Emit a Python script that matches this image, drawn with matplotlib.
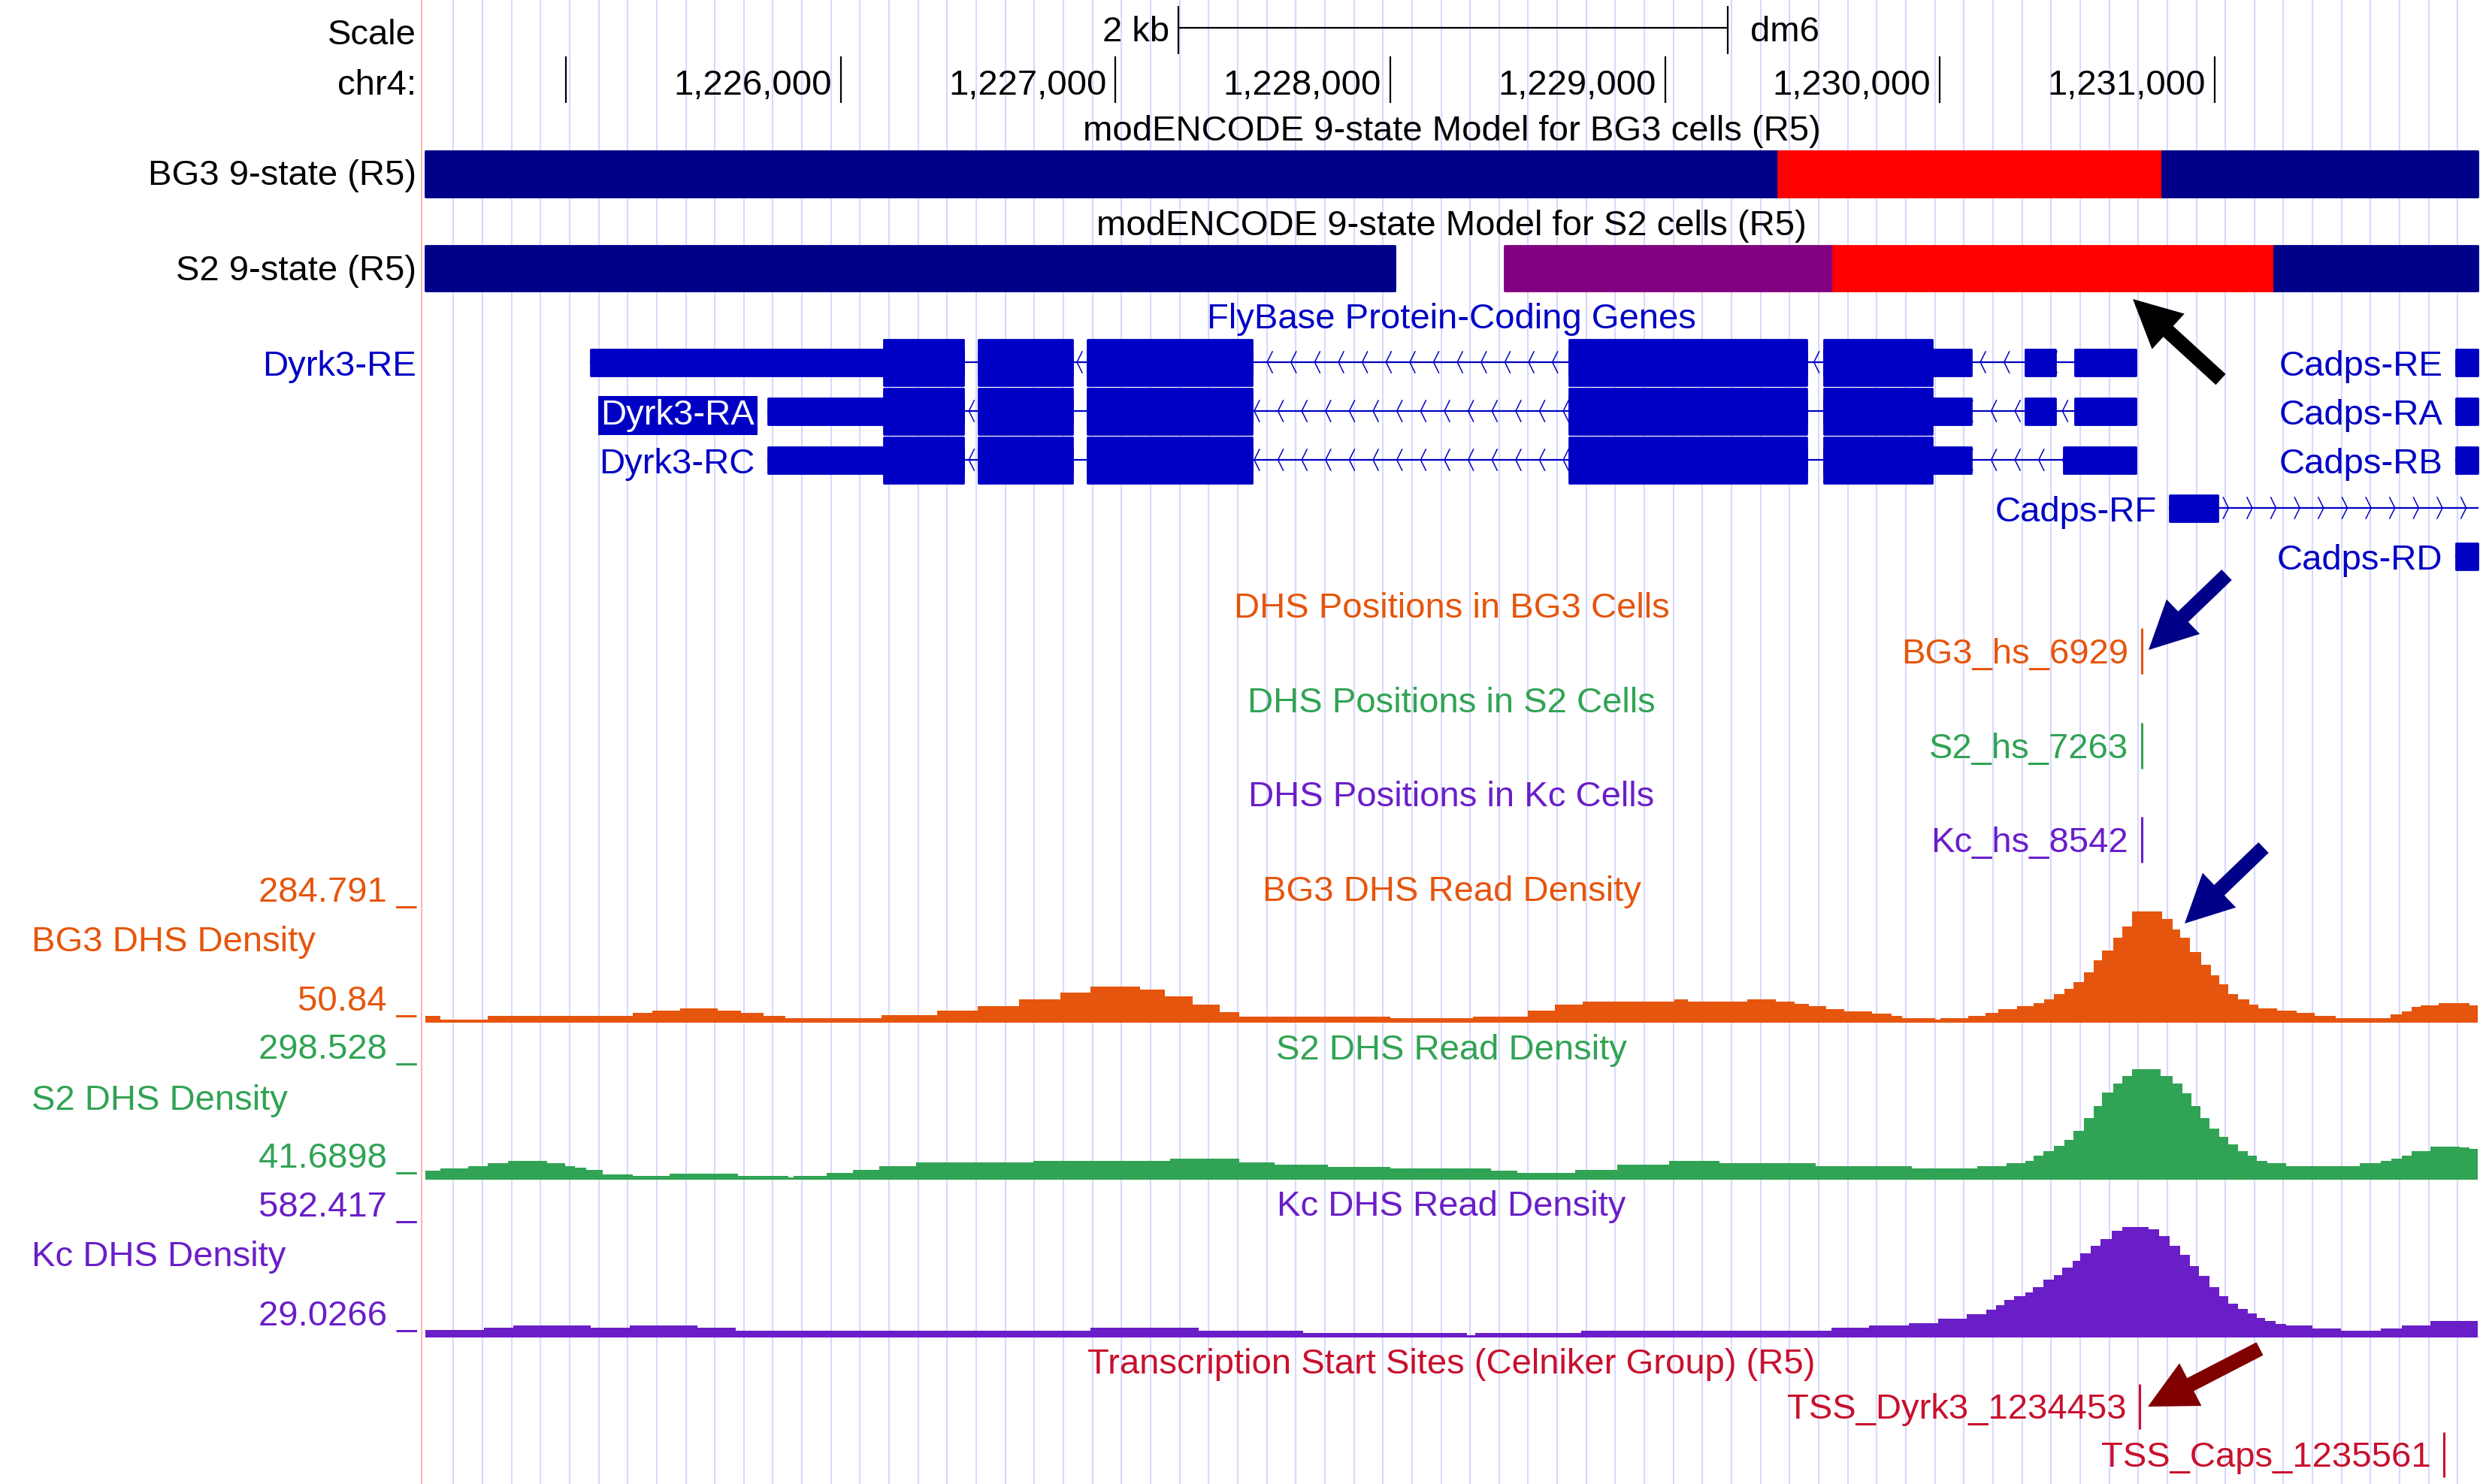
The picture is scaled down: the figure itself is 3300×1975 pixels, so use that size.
import matplotlib
matplotlib.use("Agg")
import numpy as np
import matplotlib.pyplot as plt
from matplotlib import transforms

plt.rcParams["font.family"] = ["Liberation Sans", "DejaVu Sans"]

W, H, DPI = 3300, 1975, 200
VIEW = (1224489, 1231957)      # chr4 window on screen
PX = (566, 3297)               # pixel columns of the data panel
FS = 17

NAVY, RED, PURPLE = "#000088", "#FF0000", "#800080"
GENE = "#0000C4"
ORANGE, GREEN, VIOLET, TSSC = "#E6550D", "#31A354", "#6A1EC8", "#C8102E"

# ---------------- data ----------------
CHR_TICKS = [1225000, 1226000, 1227000, 1228000, 1229000, 1230000, 1231000]
CHR_LABELS = ["", "1,226,000", "1,227,000", "1,228,000", "1,229,000", "1,230,000", "1,231,000"]
SCALE_BAR = (1227229, 1229229)

BG3_STATE_START = [1224000, 1229410, 1230809]
BG3_STATE_END = [1229410, 1230809, 1232500]
BG3_STATE_COLOR = [NAVY, RED, NAVY]
S2_STATE_START = [1224000, 1228415, 1229612, 1231216]
S2_STATE_END = [1228016, 1229612, 1231216, 1232500]
S2_STATE_COLOR = [NAVY, PURPLE, RED, NAVY]

DYRK3_RE = [(1225090, 1226448), (1226502, 1226844), (1226899, 1227496), (1228650, 1229514),
            (1229577, 1230114), (1230310, 1230421), (1230492, 1230713)]
DYRK3_RA = [(1225735, 1226448), (1226502, 1226844), (1226899, 1227496), (1228650, 1229514),
            (1229577, 1230114), (1230310, 1230421), (1230492, 1230713)]
DYRK3_RC = [(1225735, 1226448), (1226502, 1226844), (1226899, 1227496), (1228650, 1229514),
            (1229577, 1230114), (1230450, 1230713)]
DYRK3_CDS = (1226157, 1229972)
CADPS_FIRST = [(1231877, 1232100)]
CADPS_RF = [(1230837, 1231010), (1232400, 1232500)]

DHS_POS = 1230734
TSS_POS = [1230726, 1231835]
TSS_NAMES = ["TSS_Dyrk3_1234453", "TSS_Caps_1235561"]

BG3_RANGE = (50.84, 284.791)
BG3_X = [1224489, 1224543, 1224716, 1225243, 1225314, 1225416, 1225554, 1225637, 1225720, 1225800,
         1226150, 1226350, 1226500, 1226650, 1226800, 1226910, 1227090, 1227180, 1227280, 1227380,
         1227450, 1228000, 1228300, 1228500, 1228600, 1228700,
         1229034, 1229082, 1229299, 1229402, 1229471, 1229523, 1229586, 1229652, 1229753, 1229824,
         1229862, 1229983, 1230003, 1230104, 1230165, 1230213, 1230280, 1230342, 1230380, 1230415,
         1230453, 1230486, 1230524, 1230559, 1230591, 1230630, 1230664, 1230699, 1230808, 1230846,
         1230875, 1230910, 1230952, 1230985, 1231015, 1231048, 1231086, 1231125, 1231159, 1231226,
         1231297, 1231364, 1231441, 1231639, 1231681, 1231715, 1231748, 1231815, 1231926]
BG3_Y = [65, 57, 65, 71, 75, 80, 75, 71, 65, 60,
         66, 75, 85, 98, 112, 125, 118, 105, 88, 72,
         63, 60, 63, 75, 88, 94,
         99, 94, 99, 94, 89, 84, 79, 74, 69, 65,
         60, 57, 60, 65, 71, 78, 84, 91, 98, 109,
         120, 134, 153, 177, 198, 223, 247, 277, 262, 241,
         223, 194, 169, 147, 129, 109, 98, 88, 80, 75,
         70, 65, 60, 68, 74, 83, 86, 90, 86]

S2_RANGE = (41.6898, 298.528)
S2_X = [1224489, 1224543, 1224645, 1224716, 1224789, 1224931, 1224998, 1225033, 1225075, 1225134,
        1225243, 1225378, 1225627, 1225809, 1225829, 1225949, 1226046, 1226141, 1226276, 1226700,
        1227200, 1227450, 1227580, 1227772, 1228000, 1228213, 1228366, 1228462, 1228673, 1228827,
        1229015, 1229197, 1229548, 1229897, 1230137, 1230243, 1230310, 1230342, 1230377, 1230415,
        1230453, 1230486, 1230524, 1230559, 1230591, 1230630, 1230664, 1230699, 1230802, 1230846,
        1230881, 1230914, 1230948, 1230981, 1231015, 1231048, 1231086, 1231121, 1231153, 1231192,
        1231259, 1231527, 1231604, 1231642, 1231681, 1231715, 1231786, 1231892, 1231926]
S2_Y = [61, 67, 72, 78, 84, 78, 72, 69, 63, 53,
        50, 55, 50, 47, 50, 56, 64, 72, 80, 84,
        88, 80, 76, 70, 67, 67, 62, 56, 64, 75,
        84, 78, 72, 67, 72, 79, 84, 95, 106, 117,
        131, 151, 179, 207, 236, 257, 274, 289, 274, 257,
        235, 207, 179, 156, 137, 120, 106, 95, 84, 78,
        72, 78, 84, 89, 95, 106, 116, 114, 110]

KC_RANGE = (29.0266, 582.417)
KC_X = [1224489, 1224703, 1224808, 1225090, 1225234, 1225478, 1225618, 1226909, 1227302, 1227682,
        1228280, 1228309, 1228696, 1229605, 1229743, 1229887, 1229993, 1230098, 1230169, 1230204,
        1230233, 1230271, 1230310, 1230338, 1230376, 1230415, 1230444, 1230482, 1230511, 1230549,
        1230584, 1230626, 1230664, 1230760, 1230798, 1230837, 1230875, 1230910, 1230942, 1230981,
        1231015, 1231048, 1231086, 1231121, 1231153, 1231182, 1231221, 1231259, 1231355, 1231460,
        1231604, 1231681, 1231786]
KC_Y = [65, 75, 86, 75, 86, 75, 63, 75, 63, 51,
        41, 51, 63, 75, 86, 98, 120, 141, 162, 186,
        210, 228, 246, 270, 306, 330, 367, 397, 433, 469,
        502, 542, 562, 550, 517, 469, 427, 373, 325, 270,
        228, 192, 168, 144, 123, 108, 95, 86, 71, 63,
        71, 86, 108]

# ---------------- figure ----------------
fig = plt.figure(figsize=(W / DPI, H / DPI), dpi=DPI)
ax = fig.add_axes([0, 0, 1, 1])
bpp = (VIEW[1] - VIEW[0]) / (PX[1] - PX[0])
ax.set_xlim(VIEW[0] - PX[0] * bpp, VIEW[0] + (W - PX[0]) * bpp)
ax.set_ylim(H, 0)
ax.axis("off")
left = transforms.blended_transform_factory(ax.transAxes, ax.transData)
CENTER = (VIEW[0] + VIEW[1]) / 2

# guidelines and the panel edge
for g in np.arange(1224591, VIEW[1], 105.7):
    ax.axvline(g, color="#D8D8FF", lw=0.75, zorder=0)
ax.axvline(VIEW[0] - 5 * bpp, color="#FFB4B4", lw=0.75, zorder=0)


def ltext(y, s, color="black", x=554, ha="right"):
    ax.text(x / W, y, s, transform=left, ha=ha, va="baseline", fontsize=FS, color=color)


def ctext(y, s, color="black"):
    ax.text(CENTER, y, s, ha="center", va="baseline", fontsize=FS, color=color)


# ruler
ltext(59, "Scale")
ltext(126, "chr4:")
ax.plot(SCALE_BAR, [37, 37], color="black", lw=0.8)
ax.vlines(SCALE_BAR, 8, 72, color="black", lw=0.8)
ax.text(SCALE_BAR[0] - 12 * bpp, 55, "2 kb", ha="right", va="baseline", fontsize=FS)
ax.text(SCALE_BAR[1] + 30 * bpp, 55, "dm6", ha="left", va="baseline", fontsize=FS)
ax.vlines(CHR_TICKS, 75, 137, color="black", lw=0.8)
for t, lab in zip(CHR_TICKS, CHR_LABELS):
    ax.text(t - 12 * bpp, 126, lab, ha="right", va="baseline", fontsize=FS)

# chromatin states
ctext(187, "modENCODE 9-state Model for BG3 cells (R5)")
ltext(246, "BG3 9-state (R5)")
for s, e, c in zip(BG3_STATE_START, BG3_STATE_END, BG3_STATE_COLOR):
    ax.broken_barh([(max(s, VIEW[0]), min(e, VIEW[1]) - max(s, VIEW[0]))], (201, 61), color=c)
ctext(313, "modENCODE 9-state Model for S2 cells (R5)")
ltext(373, "S2 9-state (R5)")
for s, e, c in zip(S2_STATE_START, S2_STATE_END, S2_STATE_COLOR):
    ax.broken_barh([(max(s, VIEW[0]), min(e, VIEW[1]) - max(s, VIEW[0]))], (327, 60), color=c)

# genes
ctext(437, "FlyBase Protein-Coding Genes", GENE)


def transcript(y, exons, cds, strand):
    x0 = max(exons[0][0], VIEW[0])
    x1 = min(exons[-1][1], VIEW[1])
    ax.plot([x0, x1], [y, y], color=GENE, lw=0.8, zorder=2)
    dx = 19 * bpp / 2.73 * (1 if strand == "-" else -1)
    for c in np.arange(x0 + 40, x1 - 10, 86.5):
        ax.plot([c + dx, c, c + dx], [y - 14, y, y + 14], color=GENE, lw=0.55, zorder=2)
    for s, e in exons:
        s, e = max(s, VIEW[0]), min(e, VIEW[1])
        if e <= s:
            continue
        ax.broken_barh([(s, e - s)], (y - 17.5, 35), color=GENE, zorder=3)
        if cds and min(e, cds[1]) > max(s, cds[0]):
            cs, ce = max(s, cds[0]), min(e, cds[1])
            ax.broken_barh([(cs, ce - cs)], (y - 30.5, 61), color=GENE, zorder=3)


ROWS = [482, 547, 612, 676, 740]
GAP = 48
transcript(ROWS[0], DYRK3_RE, DYRK3_CDS, "-")
transcript(ROWS[1], DYRK3_RA, DYRK3_CDS, "-")
transcript(ROWS[2], DYRK3_RC, DYRK3_CDS, "-")
ltext(ROWS[0] + 18, "Dyrk3-RE", GENE)
ax.text(DYRK3_RA[0][0] - GAP, ROWS[1] + 18, "Dyrk3-RA", ha="right", va="baseline", fontsize=FS,
        color="white", bbox=dict(boxstyle="square,pad=0.08", fc=GENE, ec="none"))
ax.text(DYRK3_RC[0][0] - GAP, ROWS[2] + 18, "Dyrk3-RC", ha="right", va="baseline", fontsize=FS,
        color=GENE)
for r, name in zip([0, 1, 2, 4], ["Cadps-RE", "Cadps-RA", "Cadps-RB", "Cadps-RD"]):
    transcript(ROWS[r], CADPS_FIRST, None, "+")
    ax.text(CADPS_FIRST[0][0] - GAP, ROWS[r] + 18, name, ha="right", va="baseline", fontsize=FS,
            color=GENE)
transcript(ROWS[3], CADPS_RF, None, "+")
ax.text(CADPS_RF[0][0] - GAP, ROWS[3] + 18, "Cadps-RF", ha="right", va="baseline", fontsize=FS,
        color=GENE)

# DHS positions
for yb, title, lab, c in [(822, "DHS Positions in BG3 Cells", "BG3_hs_6929", ORANGE),
                          (948, "DHS Positions in S2 Cells", "S2_hs_7263", GREEN),
                          (1073, "DHS Positions in Kc Cells", "Kc_hs_8542", VIOLET)]:
    ctext(yb, title, c)
    ax.vlines(DHS_POS, yb + 14, yb + 75, color=c, lw=1.1)
    ax.text(DHS_POS - GAP, yb + 61, lab, ha="right", va="baseline", fontsize=FS, color=c)


# density tracks
def density(top, bottom, xs, ys, rng, color, title, name, tb):
    a = fig.add_axes([PX[0] / W, 1 - bottom / H, (PX[1] - PX[0]) / W, (bottom - top) / H])
    a.set_xlim(VIEW)
    a.set_ylim(rng)
    a.axis("off")
    a.fill_between(list(xs) + [VIEW[1]], list(ys) + [ys[-1]], rng[0], step="post", color=color, lw=0)
    ctext(tb, title, color)
    ltext(top - 8, f"{rng[1]:g} _", color)
    ltext(bottom - 16, f"{rng[0]:g} _", color)
    ltext(tb + 67, name, color, x=42, ha="left")


density(1208, 1361, BG3_X, BG3_Y, BG3_RANGE, ORANGE, "BG3 DHS Read Density", "BG3 DHS Density", 1199)
density(1417, 1570, S2_X, S2_Y, S2_RANGE, GREEN, "S2 DHS Read Density", "S2 DHS Density", 1410)
density(1627, 1780, KC_X, KC_Y, KC_RANGE, VIOLET, "Kc DHS Read Density", "Kc DHS Density", 1618)

# TSS
ctext(1828, "Transcription Start Sites (Celniker Group) (R5)", TSSC)
for p, n, yb in zip(TSS_POS, TSS_NAMES, [1888, 1952]):
    ax.vlines(p, yb - 46, yb + 14, color=TSSC, lw=1.1)
    ax.text(p - GAP, yb, n, ha="right", va="baseline", fontsize=FS, color=TSSC)

# call-out arrows (figure pixels)
style = "simple,head_length=2.3,head_width=2.3,tail_width=0.7"
for tail, tip, c in [((2955, 505), (2838, 398), "black"),
                     ((2963, 765), (2859, 865), NAVY),
                     ((3012, 1128), (2907, 1229), NAVY),
                     ((3007, 1795), (2858, 1872), "#800000")]:
    ax.annotate("", xy=(tip[0], H - tip[1]), xytext=(tail[0], H - tail[1]),
                xycoords="figure pixels", textcoords="figure pixels",
                arrowprops=dict(arrowstyle=style, color=c, lw=0, shrinkA=0, shrinkB=0,
                                mutation_scale=10))

fig.savefig("out.png", dpi=DPI)
